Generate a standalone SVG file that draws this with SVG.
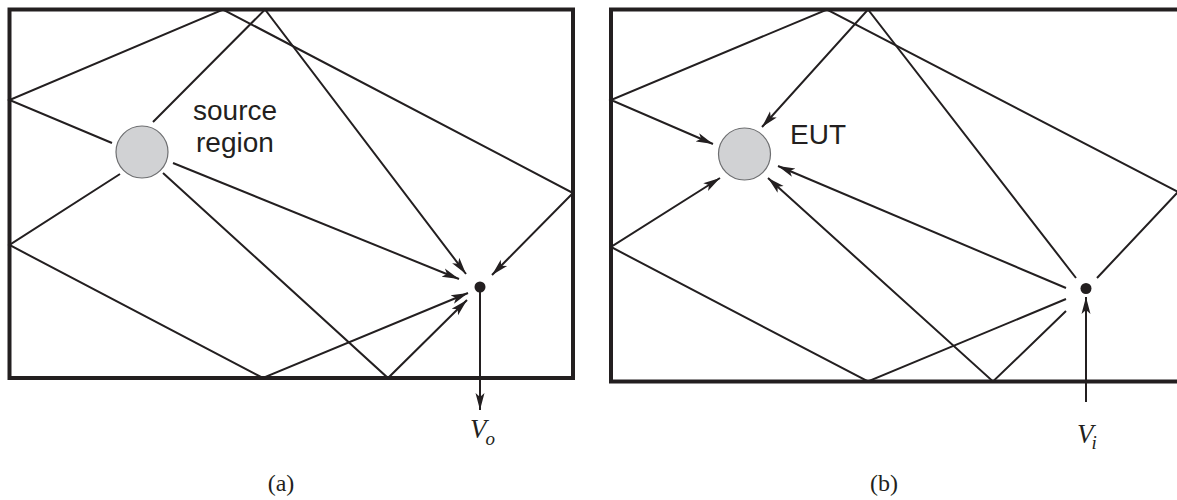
<svg xmlns="http://www.w3.org/2000/svg" width="1177" height="500" viewBox="0 0 1177 500">
<style>
.frame{fill:none;stroke:#231f20;stroke-width:4}
.ray{fill:none;stroke:#231f20;stroke-width:2}
.arr{marker-end:url(#ah)}
.blob{fill:#d1d2d4;stroke:#6d6e70;stroke-width:1.2}
.dot{fill:#231f20}
.sans{font-family:"Liberation Sans",Arial,sans-serif;font-size:28px;fill:#231f20}
.ser{font-family:"Liberation Serif","Times New Roman",serif;fill:#231f20}
</style>
<defs>
<marker id="ah" markerUnits="userSpaceOnUse" markerWidth="19" markerHeight="11" refX="17" refY="5.5" orient="auto" viewBox="0 0 19 11">
<path d="M0,1 L17,5.5 L0,10 L4,5.5 z" fill="#231f20"/>
</marker>
</defs>
<rect width="1177" height="500" fill="#fff"/>
<g id="frame-a"><rect class="frame" x="9.5" y="9.5" width="563.5" height="368.5"/></g>
<g id="frame-b"><rect class="frame" x="611" y="9.5" width="580" height="372"/></g>
<g id="source"><circle class="blob" cx="142" cy="152" r="26"/><text class="sans" x="193" y="120">source</text><text class="sans" x="196" y="152">region</text></g>
<g id="probe-a"><circle class="dot" cx="480" cy="287" r="5.5"/></g>
<g id="eut"><circle class="blob" cx="744.5" cy="154" r="26"/><text class="sans" x="790" y="144">EUT</text></g>
<g id="probe-b"><circle class="dot" cx="1086" cy="288.5" r="5.5"/></g>
<g id="connectors">
<polyline class="ray arr" points="112,143 9.5,100 223,9.5 573,193 492,275"/>
<polyline class="ray arr" points="153,122 265,9.5 466,274"/>
<line class="ray arr" x1="173" y1="163" x2="459" y2="279"/>
<polyline class="ray arr" points="120,174 9.5,245 263,378 468,293"/>
<polyline class="ray arr" points="163,173 388,378 467,300"/>
<line class="ray arr" x1="480" y1="292" x2="480" y2="410"/>
<polyline class="ray arr" points="1097,278 1178,192 827,9.5 611,100 713,144"/>
<polyline class="ray arr" points="1076,278 868,9.5 762,127"/>
<line class="ray arr" x1="1066" y1="288" x2="778" y2="166"/>
<polyline class="ray arr" points="1066,299 868,381.5 611,247 720,178"/>
<polyline class="ray arr" points="1066,311 993,381.5 768,178"/>
<line class="ray arr" x1="1086" y1="402" x2="1086" y2="297"/>
</g>
<g id="labels">
<text class="ser" x="470" y="438" font-size="27" font-style="italic">V<tspan dx="-1" dy="7" font-size="19">o</tspan></text>
<text class="ser" x="1077" y="443" font-size="27" font-style="italic">V<tspan dx="-2" dy="6" font-size="19">i</tspan></text>
<text class="ser" x="281" y="491" font-size="24" text-anchor="middle">(a)</text>
<text class="ser" x="884" y="491" font-size="24" text-anchor="middle">(b)</text>
</g>
</svg>
